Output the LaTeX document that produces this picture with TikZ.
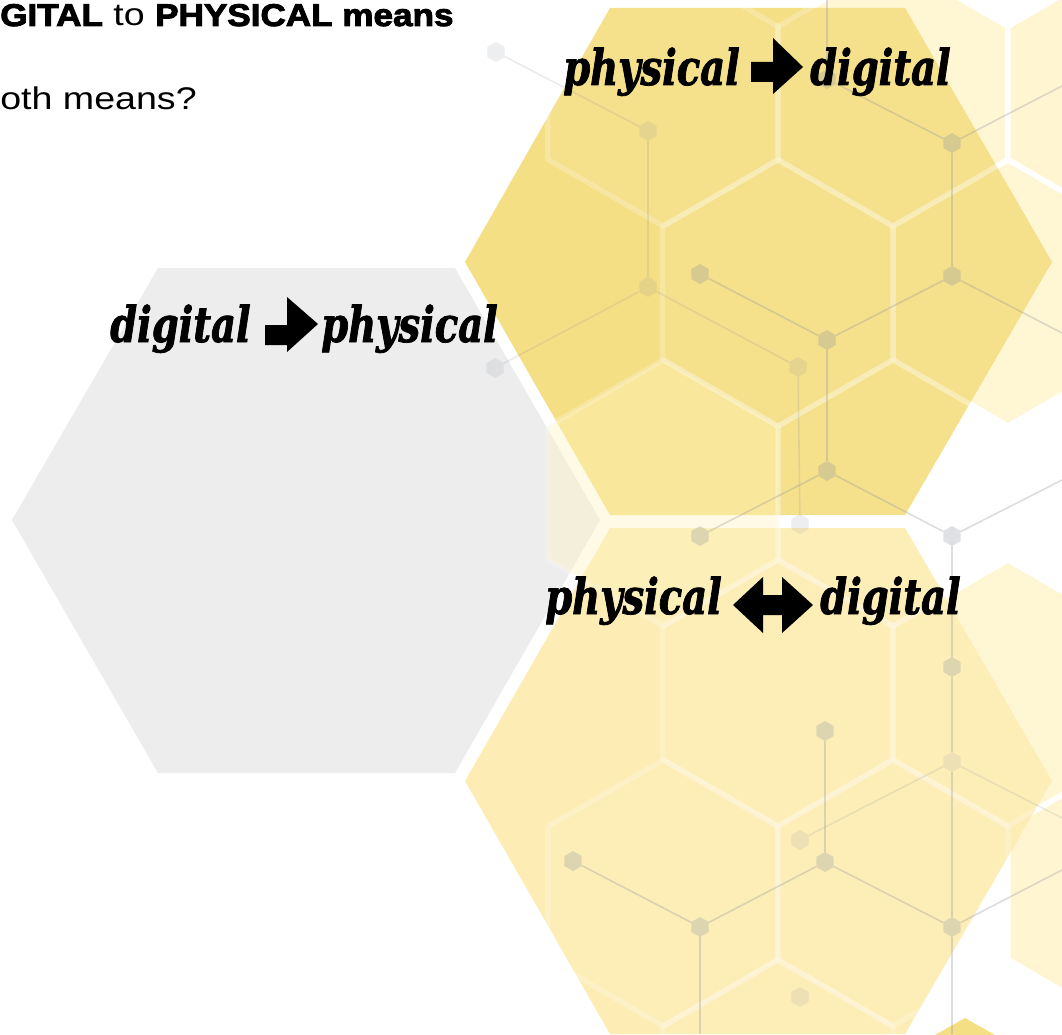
\documentclass[tikz,border=0pt]{standalone}
\usepackage{fontspec}
\setmainfont{Liberation Sans}
\newfontfamily\headfont{Liberation Sans}[FakeStretch=1.2]
\newfontfamily\headheavy{Liberation Sans}[UprightFont=* Bold, FakeStretch=1.12, FakeBold=3]
\newfontfamily\labfont{DejaVu Serif}[FakeStretch=0.78, FakeBold=1.5]
\usepackage{tikz}
\usetikzlibrary{shapes.geometric}
\definecolor{hexgrey}{RGB}{237,237,237}
\definecolor{hexgold}{RGB}{245,223,132}
\definecolor{hexcream}{RGB}{253,237,180}
\definecolor{hexpale}{RGB}{255,243,190}
\definecolor{netcol}{RGB}{140,145,158}

\begin{document}
\begin{tikzpicture}[
    x=0.75pt, y=-0.75pt,
    backcell/.style={fill=hexpale, fill opacity=0.7, draw=white, line width=4},
    overcell/.style={draw=white, draw opacity=0.22, line width=4, fill=white, fill opacity=0.06},
    netline/.style={draw=netcol, draw opacity=0.3, line width=1.2},
    netdot/.style={regular polygon, regular polygon sides=6, shape border rotate=30,
                   minimum size=15pt, inner sep=0pt, fill=netcol, fill opacity=0.28},
    headtext/.style={anchor=base west, inner sep=0pt, font=\headfont\fontsize{23.5}{27}\selectfont},
    labtext/.style={anchor=base west, inner sep=0pt, font=\labfont\bfseries\itshape\fontsize{37}{40}\selectfont}
  ]
    \useasboundingbox (0,0) rectangle (1062,1034);
    \clip (0,0) rectangle (1062,1034);
    \fill[white] (0,0) rectangle (1062,1034);
    % honeycomb behind, only shows at the right edge
    \foreach \cx/\cy in {893/93, 1123/93, 1008/293, 1008/693, 1123/893}
      \filldraw[backcell, shift={(\cx,\cy)}] (30:133) -- (90:133) -- (150:133) -- (210:133) -- (270:133) -- (330:133) -- cycle;
    % the three big hexagons
    \fill[hexgrey] (12,520) -- (158,268) -- (455,268) -- (600,520) -- (455,773) -- (158,773) -- cycle;
    \fill[hexgold] (465,262) -- (610,8) -- (905,8) -- (1052,262) -- (905,515) -- (610,515) -- cycle;
    \fill[hexcream] (465,781) -- (610,528) -- (905,528) -- (1052,781) -- (905,1034) -- (610,1034) -- cycle;
    \fill[hexgold] (905,1052) -- (965,1018) -- (1025,1052) -- cycle;
    % honeycomb in front, faint
    \foreach \cx/\cy in {663/93, 893/93, 778/293, 1008/293, 893/493, 778/693, 1008/693, 663/893, 893/893, 778/1093}
      \filldraw[overcell, shift={(\cx,\cy)}] (30:133) -- (90:133) -- (150:133) -- (210:133) -- (270:133) -- (330:133) -- cycle;
    \filldraw[overcell, fill=hexpale, fill opacity=0.4, shift={(663,493)}] (30:133) -- (90:133) -- (150:133) -- (210:133) -- (270:133) -- (330:133) -- cycle;
    % network
    \foreach \n/\x/\y in {a1/827/79, a2/952/143, a3/700/274, a4/952/276, a5/827/340, a6/827/471,
                          a7/700/536, a8/952/536, a9/952/667, a10/825/731, a11/825/862,
                          a12/573/861, a13/700/927, a14/952/927}
      \node[netdot] (\n) at (\x,\y) {};
    \foreach \n/\x/\y in {b1/496/52, b2/648/131, b3/648/287, b4/798/367, b5/495/368,
                          b6/800/524, b7/952/762, b8/800/840, b9/800/997}
      \node[netdot, fill opacity=0.15] (\n) at (\x,\y) {};
    \coordinate (e1) at (827,0);
    \coordinate (e2) at (1062,86);
    \coordinate (e3) at (1062,333);
    \coordinate (e4) at (1062,480);
    \coordinate (e5) at (1062,870);
    \coordinate (e6) at (700,1034);
    \coordinate (e7) at (952,1034);
    \coordinate (e8) at (1062,818);
    \foreach \p/\q in {a1/a2, a2/a4, a3/a5, a5/a4, a5/a6, a6/a7, a6/a8, a8/a9, a9/b7, b7/a14,
                       a10/a11, a12/a13, a13/a11, a11/a14, a1/e1, a2/e2, a4/e3, a8/e4,
                       a14/e5, a13/e6, a14/e7}
      \draw[netline] (\p) -- (\q);
    \foreach \p/\q in {b1/b2, b2/b3, b3/b5, b3/b4, b4/b6, b8/b7, b7/e8}
      \draw[netline, draw opacity=0.18] (\p) -- (\q);
    % heading
    \node[headtext] (headA) at (0,26) {{\headheavy GITAL} to {\headheavy PHYSICAL means}};
    \node[headtext] (headB) at (0,110) {oth means?};
    % physical -> digital
    \node[labtext] (pdPhys) at (563,85) {physical};
    \fill (751,62) -- (773,62) -- (773,38) -- (803,67) -- (773,94) -- (773,82) -- (751,82) -- cycle;
    \node[labtext] (pdDig) at (810,85) {digital};
    % digital -> physical
    \node[labtext] (dpDig) at (110,342) {digital};
    \fill (265,325) -- (287,325) -- (287,297) -- (318,324) -- (287,352) -- (287,345) -- (265,345) -- cycle;
    \node[labtext] (dpPhys) at (321,342) {physical};
    % physical <-> digital
    \node[labtext] (bothPhys) at (545,614) {physical};
    \fill (733,605) -- (763,577) -- (763,595) -- (782,595) -- (782,577) -- (813,605) -- (782,633)
          -- (782,615) -- (763,615) -- (763,633) -- cycle;
    \node[labtext] (bothDig) at (820,614) {digital};
\end{tikzpicture}
\end{document}
